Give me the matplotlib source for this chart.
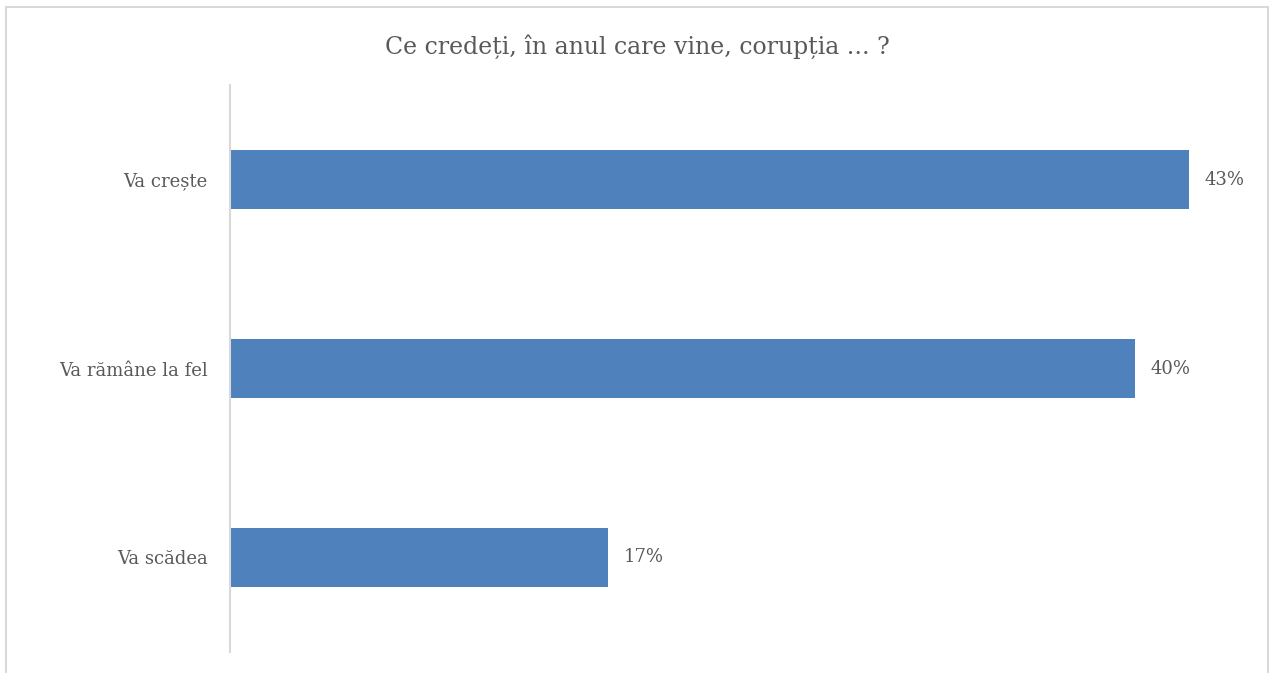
import matplotlib.pyplot as plt
from matplotlib.patches import Rectangle

# data (bar lengths, labels as printed)
categories = ["Va crește", "Va rămâne la fel", "Va scădea"]
values = [42.6, 40.2, 16.8]
labels = ["43%", "40%", "17%"]
title = "Ce credeți, în anul care vine, corupția ... ?"

plt.rcParams['font.family'] = ['DejaVu Serif']
text_color = "#595959"
bar_color = "#4F81BD"

fig = plt.figure(figsize=(12.72, 6.73), dpi=100)

# light frame round the chart area (bottom edge cut off)
fig.add_artist(Rectangle((6 / 1272, -0.05), 1262 / 1272, 1 - 7 / 673 + 0.05,
                         transform=fig.transFigure, fill=False,
                         edgecolor="#D9D9D9", linewidth=1.5))

ax = fig.add_axes([230 / 1272, 21 / 673, 1030 / 1272, 567 / 673])

ypos = list(range(len(categories)))
ax.barh(ypos, values, height=0.31, color=bar_color)
ax.set_ylim(2.5, -0.5)
ax.set_xlim(0, 45.75)

for y, v, lab in zip(ypos, values, labels):
    ax.text(v + 0.7, y, lab, va="center", ha="left", fontsize=13,
            color=text_color)

ax.set_yticks(ypos)
ax.set_yticklabels(categories, fontsize=13, color=text_color)
ax.tick_params(axis="y", length=0, pad=16)
ax.set_xticks([])

for s in ["top", "right", "bottom"]:
    ax.spines[s].set_visible(False)
ax.spines["left"].set_color("#D9D9D9")
ax.spines["left"].set_linewidth(1.5)

fig.text(637 / 1272, 1 - 47 / 673, title, ha="center", va="center",
         fontsize=17, color=text_color)

plt.savefig("out.png", dpi=100)
